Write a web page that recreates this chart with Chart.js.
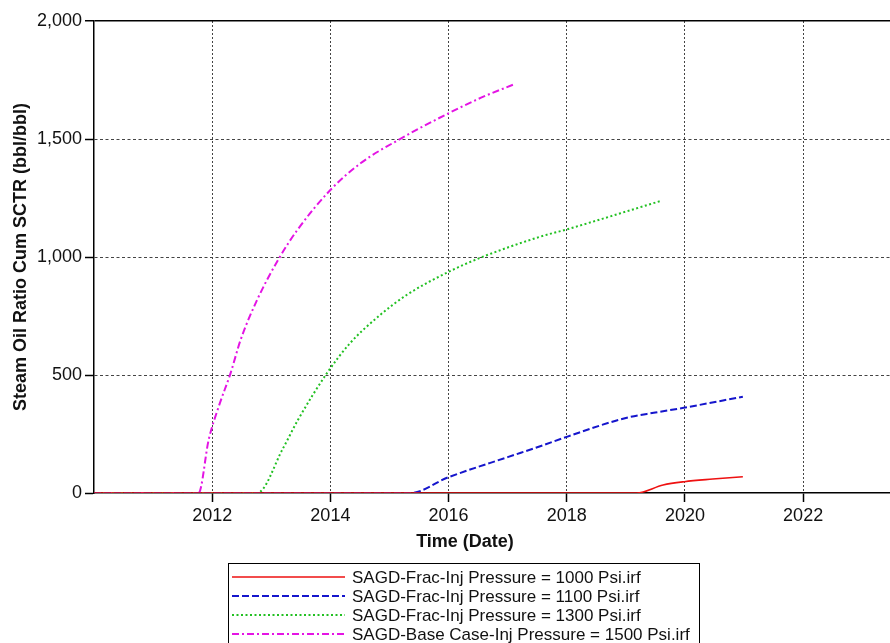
<!DOCTYPE html>
<html>
<head>
<meta charset="utf-8">
<title>Steam Oil Ratio Cum SCTR</title>
<script src="https://cdn.jsdelivr.net/npm/chart.js@4.4.1/dist/chart.umd.min.js"></script>
<style>
  html, body { margin: 0; padding: 0; background: #fff; overflow: hidden; }
  #chart { display: block; }
</style>
</head>
<body>
<canvas id="chart" width="890" height="643"></canvas>
<script>
(() => {
  // values: decimal year -> cumulative SOR (bbl/bbl)
  const redYears = [2010, 2019.18, 2019.63, 2019.99, 2020.47, 2020.98];
  const redSor   = [0, 0, 34, 48, 59, 69];

  const blueYears = [2010, 2015.35, 2016.0, 2017.0, 2017.55, 2018.0, 2019.0, 2019.5, 2020.0, 2020.98];
  const blueSor   = [0, 0, 67, 152, 198, 238, 318, 341, 362, 408];

  const greenYears = [2010, 2012.76, 2013.2, 2013.45, 2013.94, 2014.33, 2014.84, 2015.29, 2016.0, 2016.54, 2017.55, 2018.0, 2019.61];
  const greenSor   = [0, 0, 190, 309, 507, 634, 754, 839, 937, 997, 1086, 1117, 1239];

  const magentaYears = [2010, 2011.77, 2011.94, 2012.11, 2012.31, 2012.48, 2012.76, 2013.13, 2013.44, 2014.0, 2014.51, 2015.15, 2016.0, 2016.55, 2017.12];
  const magentaSor   = [0, 0, 225, 366, 507, 648, 818, 994, 1114, 1284, 1397, 1496, 1609, 1675, 1733];

  const seriesLabels = [
    "SAGD-Frac-Inj Pressure = 1000 Psi.irf",
    "SAGD-Frac-Inj Pressure = 1100 Psi.irf",
    "SAGD-Frac-Inj Pressure = 1300 Psi.irf",
    "SAGD-Base Case-Inj Pressure = 1500 Psi.irf",
  ];
  const xTickYears = [2012, 2014, 2016, 2018, 2020, 2022];
  const yTicks = [0, 500, 1000, 1500, 2000];

  const FONT = "'Liberation Sans', Arial, sans-serif";
  const pts = (xs, ys) => xs.map((x, i) => ({ x, y: ys[i] }));

  const line = (label, data, color, dash, width) => ({
    label, data,
    borderColor: color, backgroundColor: color,
    borderDash: dash, borderWidth: width,
    pointRadius: 0, fill: false,
    cubicInterpolationMode: "monotone",
  });

  // legend drawn as a boxed single column, like the original export
  const boxLegend = {
    id: "boxLegend",
    afterDraw(chart) {
      const { ctx } = chart;
      ctx.save();
      ctx.strokeStyle = "#000";
      ctx.lineWidth = 1;
      ctx.setLineDash([]);
      ctx.strokeRect(228.5, 563.5, 471, 100);

      ctx.font = `17px ${FONT}`;
      ctx.textBaseline = "middle";
      ctx.fillStyle = "#111";
      chart.data.datasets.forEach((ds, i) => {
        const y = 577 + i * 19;
        ctx.beginPath();
        ctx.strokeStyle = ds.borderColor;
        ctx.lineWidth = ds.borderWidth;
        ctx.setLineDash(ds.borderDash);
        ctx.moveTo(232, y);
        ctx.lineTo(345, y);
        ctx.stroke();
        ctx.fillText(ds.label, 352, y + 1);
      });

      // x axis title, centred on the original figure
      ctx.font = `bold 18px ${FONT}`;
      ctx.textAlign = "center";
      ctx.fillText("Time (Date)", 465, 542);
      ctx.restore();
    },
  };

  new Chart(document.getElementById("chart"), {
    type: "line",
    data: {
      datasets: [
        line(seriesLabels[0], pts(redYears, redSor), "#ee1111", [], 1.6),
        line(seriesLabels[1], pts(blueYears, blueSor), "#1515cc", [7, 3], 2),
        line(seriesLabels[2], pts(greenYears, greenSor), "#22c022", [2, 2.5], 2),
        line(seriesLabels[3], pts(magentaYears, magentaSor), "#e414e4", [7, 3, 2, 3], 2),
      ],
    },
    options: {
      responsive: false,
      animation: false,
      layout: { padding: { top: 21, right: 0, left: 0, bottom: 0 } },
      plugins: { legend: { display: false }, tooltip: { enabled: false } },
      scales: {
        x: {
          type: "linear",
          min: 2010, max: 2023.47,
          afterBuildTicks: s => { s.ticks = xTickYears.map(value => ({ value })); },
          afterFit: s => { s.height = 150; },
          ticks: {
            color: "#111", padding: 3, maxRotation: 0, autoSkip: false,
            font: { family: FONT, size: 18 },
            callback: v => String(v),
          },
          grid: {
            color: "#444", lineWidth: 1,
            tickLength: 9, tickColor: "#000", tickWidth: 1.5,
          },
          border: { display: true, color: "#000", width: 1.5, dash: [2, 2] },
        },
        y: {
          min: 0, max: 2000,
          afterBuildTicks: s => { s.ticks = yTicks.map(value => ({ value })); },
          afterFit: s => { s.width = 94; },
          ticks: {
            color: "#111", padding: 3,
            font: { family: FONT, size: 18 },
            callback: v => v.toLocaleString("en-US"),
          },
          grid: {
            color: c => c.tick && c.tick.value === 0 ? "rgba(0,0,0,0)"
              : c.tick && c.tick.value === 2000 ? "#000" : "#444",
            lineWidth: c => c.tick && c.tick.value === 2000 ? 1.5 : 1,
            tickLength: 9, tickColor: "#000", tickWidth: 1.5,
          },
          border: {
            display: true, color: "#000", width: 1.5,
            dash: c => c.tick && c.tick.value === 2000 ? [] : [3, 2.5],
          },
          title: {
            display: true,
            text: "Steam Oil Ratio Cum SCTR (bbl/bbl)",
            color: "#111",
            font: { family: FONT, size: 18, weight: "bold" },
            padding: { top: 10, bottom: 0 },
          },
        },
      },
    },
    plugins: [boxLegend],
  });
})();
</script>
</body>
</html>
